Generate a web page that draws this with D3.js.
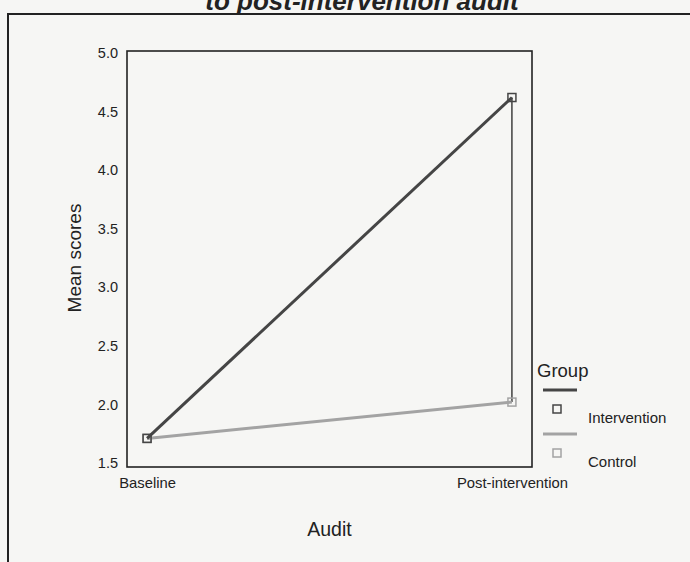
<!DOCTYPE html>
<html>
<head>
<meta charset="utf-8">
<script src="https://cdn.jsdelivr.net/npm/d3@7"></script>
<style>
  body { margin: 0; background: #f6f6f4; }
  svg { display: block; font-family: "Liberation Sans", Arial, sans-serif; }
</style>
</head>
<body>
<div id="chart"></div>
<script>
// data
const audits = ["Baseline", "Post-intervention"];
const groups = ["Intervention", "Control"];
const interventionMeans = [1.71, 4.62];
const controlMeans = [1.71, 2.02];
const yTicks = [1.5, 2.0, 2.5, 3.0, 3.5, 4.0, 4.5, 5.0];

const width = 690, height = 562;
const margin = {top: 51, left: 127, right: 158, bottom: 95};
const innerWidth = width - margin.left - margin.right;
const innerHeight = height - margin.top - margin.bottom;

const svg = d3.select("#chart")
  .append("svg")
  .attr("width", width)
  .attr("height", height);

// page frame + cut-off title from the scan
svg.append("rect")
  .attr("x", 8).attr("y", 14)
  .attr("width", 700).attr("height", 560)
  .attr("fill", "none")
  .attr("stroke", "#222")
  .attr("stroke-width", 2);

svg.append("text")
  .attr("x", 362).attr("y", 10)
  .attr("text-anchor", "middle")
  .attr("font-size", 26)
  .attr("font-weight", "bold")
  .attr("font-style", "italic")
  .attr("fill", "#222")
  .text("to post-intervention audit");

const g = svg.append("g")
  .attr("transform", `translate(${margin.left},${margin.top})`);

const xScale = d3.scalePoint()
  .domain(audits)
  .range([0, innerWidth])
  .padding(0.055);

// the scale sits a little inside the frame, as SPSS draws it
const yScale = d3.scaleLinear()
  .domain([1.5, 5.0])
  .range([innerHeight - 4, 2]);

// plot frame
g.append("rect")
  .attr("width", innerWidth)
  .attr("height", innerHeight)
  .attr("fill", "none")
  .attr("stroke", "#222")
  .attr("stroke-width", 1.6);

const yAxis = g.append("g")
  .call(d3.axisLeft(yScale).tickValues(yTicks).tickFormat(d3.format(".1f")).tickSize(0).tickPadding(9));
yAxis.select(".domain").remove();
yAxis.attr("font-size", 14.5).attr("font-family", "Liberation Sans, Arial, sans-serif");
yAxis.selectAll("text").attr("fill", "#222");

const xAxis = g.append("g")
  .attr("transform", `translate(0,${innerHeight})`)
  .call(d3.axisBottom(xScale).tickSize(0).tickPadding(10));
xAxis.select(".domain").remove();
xAxis.attr("font-size", 14.8).attr("font-family", "Liberation Sans, Arial, sans-serif");
xAxis.selectAll("text").attr("fill", "#222");

// axis titles
g.append("text")
  .attr("x", innerWidth / 2)
  .attr("y", innerHeight + 69)
  .attr("text-anchor", "middle")
  .attr("font-size", 19.5)
  .attr("fill", "#222")
  .text("Audit");

g.append("text")
  .attr("transform", `translate(${-46},${innerHeight / 2 - 1}) rotate(-90)`)
  .attr("text-anchor", "middle")
  .attr("font-size", 19)
  .attr("fill", "#222")
  .text("Mean scores");

const series = [
  {name: groups[0], values: interventionMeans, color: "#454545"},
  {name: groups[1], values: controlMeans, color: "#a3a3a3"}
];

// thin drop line joining the two post-intervention points (as in the scan)
const last = audits.length - 1;
g.append("line")
  .attr("x1", xScale(audits[last])).attr("x2", xScale(audits[last]))
  .attr("y1", yScale(interventionMeans[last]))
  .attr("y2", yScale(controlMeans[last]))
  .attr("stroke", "#111")
  .attr("stroke-width", 1.2);

const line = d3.line()
  .x((d, i) => xScale(audits[i]))
  .y(d => yScale(d));

// control first so intervention sits on top
series.slice().reverse().forEach(s => {
  g.append("path")
    .attr("d", line(s.values))
    .attr("fill", "none")
    .attr("stroke", s.color)
    .attr("stroke-width", 3);

  g.selectAll(null)
    .data(s.values)
    .join("rect")
      .attr("x", (d, i) => xScale(audits[i]) - 4)
      .attr("y", d => yScale(d) - 4)
      .attr("width", 8)
      .attr("height", 8)
      .attr("fill", "none")
      .attr("stroke", s.color)
      .attr("stroke-width", 1.5);
});

// legend
const legend = svg.append("g").attr("transform", "translate(537,0)");
legend.append("text")
  .attr("x", 0).attr("y", 377)
  .attr("font-size", 18.5)
  .attr("fill", "#222")
  .text("Group");

series.forEach((s, i) => {
  const y0 = 390 + i * 44;
  legend.append("line")
    .attr("x1", 6).attr("x2", 40)
    .attr("y1", y0).attr("y2", y0)
    .attr("stroke", s.color)
    .attr("stroke-width", 3);
  legend.append("rect")
    .attr("x", 16).attr("y", y0 + 15)
    .attr("width", 8).attr("height", 8)
    .attr("fill", "none")
    .attr("stroke", s.color)
    .attr("stroke-width", 1.5);
  legend.append("text")
    .attr("x", 51).attr("y", y0 + 33)
    .attr("font-size", 15)
    .attr("fill", "#222")
    .text(s.name);
});
</script>
</body>
</html>
